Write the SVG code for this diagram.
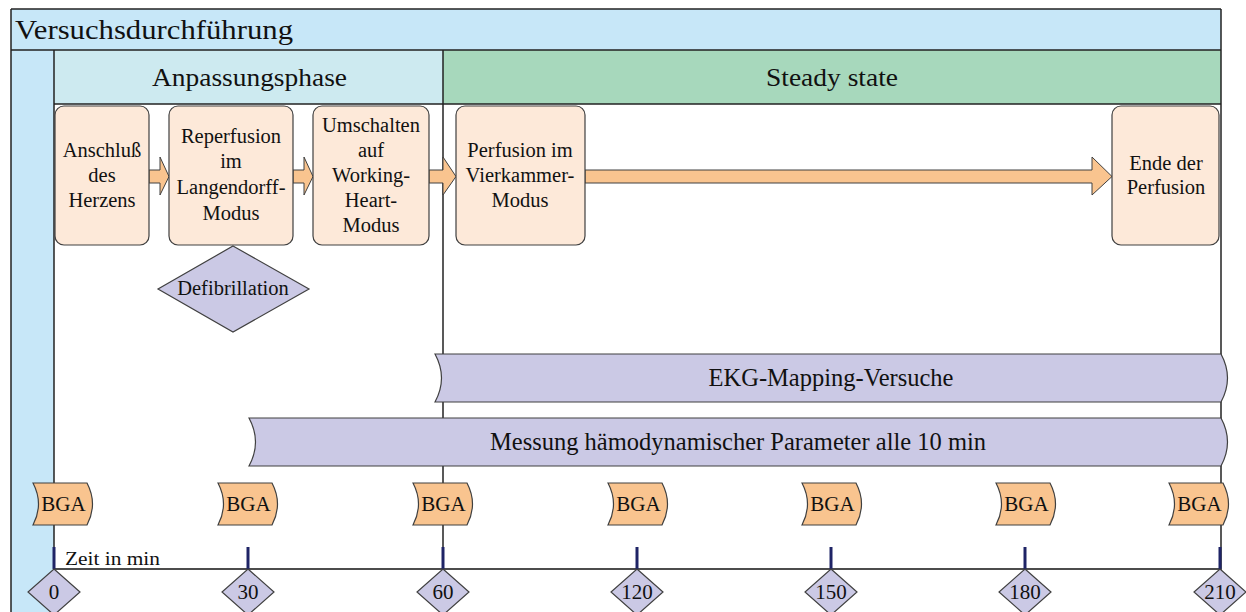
<svg xmlns="http://www.w3.org/2000/svg" width="1246" height="612" viewBox="0 0 1246 612">
  <style>
    text { font-family: "Liberation Serif", "Times New Roman", serif; fill: #111; }
    .box { fill: #fde9d9; stroke: #404040; stroke-width: 1.2; }
    .lav { fill: #cbc9e5; stroke: #404040; stroke-width: 1.2; }
    .bga { fill: #f9c48f; stroke: #404040; stroke-width: 1.2; }
    .arrow { fill: #f9c48f; stroke: #404040; stroke-width: 1; }
    .frame { fill: none; stroke: #222; stroke-width: 1.5; }
    .tick { stroke: #1f2466; stroke-width: 3; }
    .t19 { font-size: 20.5px; text-anchor: middle; }
    .num { font-size: 21px; text-anchor: middle; }
    .bar { font-size: 24.5px; text-anchor: middle; }
  </style>

  <!-- frame and lanes -->
  <g id="frame">
    <rect x="11" y="9" width="1210" height="41" fill="#c7e7f8"/>
    <rect x="11" y="50" width="43" height="562" fill="#c7e7f8"/>
    <rect x="54" y="50" width="389" height="54" fill="#cdeaf0"/>
    <rect x="443" y="50" width="778" height="54" fill="#a7d8bc"/>
    <line class="frame" x1="11" y1="9" x2="1221" y2="9"/>
    <line class="frame" x1="11" y1="9" x2="11" y2="612"/>
    <line class="frame" x1="1221" y1="9" x2="1221" y2="612"/>
    <line class="frame" x1="11" y1="50" x2="1221" y2="50"/>
    <line class="frame" x1="54" y1="104" x2="1221" y2="104"/>
    <line class="frame" x1="54" y1="50" x2="54" y2="569"/>
    <line class="frame" x1="443" y1="50" x2="443" y2="569"/>
    <text x="15" y="39" font-size="27" textLength="278" lengthAdjust="spacingAndGlyphs">Versuchsdurchführung</text>
    <text x="249.5" y="86" font-size="24.5" text-anchor="middle" textLength="195" lengthAdjust="spacingAndGlyphs">Anpassungsphase</text>
    <text x="832" y="86" font-size="24.5" text-anchor="middle" textLength="132" lengthAdjust="spacingAndGlyphs">Steady state</text>
  </g>

  <!-- block arrows between steps -->
  <g id="connectors">
    <path class="arrow" d="M149,170 H160 V157 L169,176.5 L160,195 V183 H149 Z"/>
    <path class="arrow" d="M293,170 H304 V157 L313,176.5 L304,195 V183 H293 Z"/>
    <path class="arrow" d="M429,170 H443 V157 L456,176.5 L443,195 V183 H429 Z"/>
    <path class="arrow" d="M585,170 H1092 V157 L1112,176.5 L1092,195 V183 H585 Z"/>
  </g>

  <g id="anschluss">
    <rect class="box" x="55" y="106" width="94" height="139" rx="9"/>
    <text class="t19" x="102" y="157">Anschluß</text>
    <text class="t19" x="102" y="182">des</text>
    <text class="t19" x="102" y="207">Herzens</text>
  </g>
  <g id="reperfusion">
    <rect class="box" x="169" y="106" width="124" height="139" rx="9"/>
    <text class="t19" x="231" y="143">Reperfusion</text>
    <text class="t19" x="231" y="168">im</text>
    <text class="t19" x="231" y="194">Langendorff-</text>
    <text class="t19" x="231" y="220">Modus</text>
  </g>
  <g id="umschalten">
    <rect class="box" x="313" y="106" width="116" height="139" rx="9"/>
    <text class="t19" x="371" y="132">Umschalten</text>
    <text class="t19" x="371" y="157">auf</text>
    <text class="t19" x="371" y="182">Working-</text>
    <text class="t19" x="371" y="207">Heart-</text>
    <text class="t19" x="371" y="232">Modus</text>
  </g>
  <g id="vierkammer">
    <rect class="box" x="456" y="106" width="129" height="139" rx="9"/>
    <text class="t19" x="520" y="157">Perfusion im</text>
    <text class="t19" x="520" y="182">Vierkammer-</text>
    <text class="t19" x="520" y="207">Modus</text>
  </g>
  <g id="ende">
    <rect class="box" x="1112" y="106" width="107" height="139" rx="9"/>
    <text class="t19" x="1166" y="170">Ende der</text>
    <text class="t19" x="1166" y="194">Perfusion</text>
  </g>
  <g id="defibrillation">
    <polygon class="lav" points="233,246 309,289 233,332 158,289"/>
    <text class="t19" x="233" y="295">Defibrillation</text>
  </g>

  <!-- activity bars -->
  <g id="ekg">
    <path class="lav" d="M435,354 H1221 Q1234,378 1221,402 H435 Q448,378 435,354 Z"/>
    <text class="bar" x="831" y="386">EKG-Mapping-Versuche</text>
  </g>
  <g id="messung">
    <path class="lav" d="M249,418 H1221 Q1234,442 1221,466 H249 Q262,442 249,418 Z"/>
    <text class="bar" x="738" y="450">Messung hämodynamischer Parameter alle 10 min</text>
  </g>

  <!-- blood gas samples -->
  <g id="bga0"><path class="bga" d="M33,483 H87 Q98,504 87,525 H33 Q44,504 33,483 Z"/><text class="num" x="63.5" y="511">BGA</text></g>
  <g id="bga30"><path class="bga" d="M218,483 H272 Q283,504 272,525 H218 Q229,504 218,483 Z"/><text class="num" x="248.5" y="511">BGA</text></g>
  <g id="bga60"><path class="bga" d="M413,483 H467 Q478,504 467,525 H413 Q424,504 413,483 Z"/><text class="num" x="443.5" y="511">BGA</text></g>
  <g id="bga120"><path class="bga" d="M608,483 H662 Q673,504 662,525 H608 Q619,504 608,483 Z"/><text class="num" x="638.5" y="511">BGA</text></g>
  <g id="bga150"><path class="bga" d="M802,483 H856 Q867,504 856,525 H802 Q813,504 802,483 Z"/><text class="num" x="832.5" y="511">BGA</text></g>
  <g id="bga180"><path class="bga" d="M996,483 H1050 Q1061,504 1050,525 H996 Q1007,504 996,483 Z"/><text class="num" x="1026.5" y="511">BGA</text></g>
  <g id="bga210"><path class="bga" d="M1169,483 H1223 Q1234,504 1223,525 H1169 Q1180,504 1169,483 Z"/><text class="num" x="1199.5" y="511">BGA</text></g>

  <!-- time axis -->
  <g id="axis">
    <line x1="54" y1="569" x2="1221" y2="569" stroke="#111" stroke-width="1.3"/>
    <line class="tick" x1="54" y1="547" x2="54" y2="569"/>
    <line class="tick" x1="248" y1="547" x2="248" y2="569"/>
    <line class="tick" x1="443" y1="547" x2="443" y2="569"/>
    <line class="tick" x1="637" y1="547" x2="637" y2="569"/>
    <line class="tick" x1="831" y1="547" x2="831" y2="569"/>
    <line class="tick" x1="1025" y1="547" x2="1025" y2="569"/>
    <line class="tick" x1="1220" y1="547" x2="1220" y2="569"/>
    <text x="65" y="565" font-size="19.5" textLength="95" lengthAdjust="spacingAndGlyphs">Zeit in min</text>
  </g>
  <g id="t0"><polygon class="lav" points="54,569 80,592 54,615 28,592"/><text class="num" x="54" y="599">0</text></g>
  <g id="t30"><polygon class="lav" points="248,569 274,592 248,615 222,592"/><text class="num" x="248" y="599">30</text></g>
  <g id="t60"><polygon class="lav" points="443,569 469,592 443,615 417,592"/><text class="num" x="443" y="599">60</text></g>
  <g id="t120"><polygon class="lav" points="637,569 663,592 637,615 611,592"/><text class="num" x="637" y="599">120</text></g>
  <g id="t150"><polygon class="lav" points="831,569 857,592 831,615 805,592"/><text class="num" x="831" y="599">150</text></g>
  <g id="t180"><polygon class="lav" points="1025,569 1051,592 1025,615 999,592"/><text class="num" x="1025" y="599">180</text></g>
  <g id="t210"><polygon class="lav" points="1220,569 1246,592 1220,615 1194,592"/><text class="num" x="1220" y="599">210</text></g>
</svg>
